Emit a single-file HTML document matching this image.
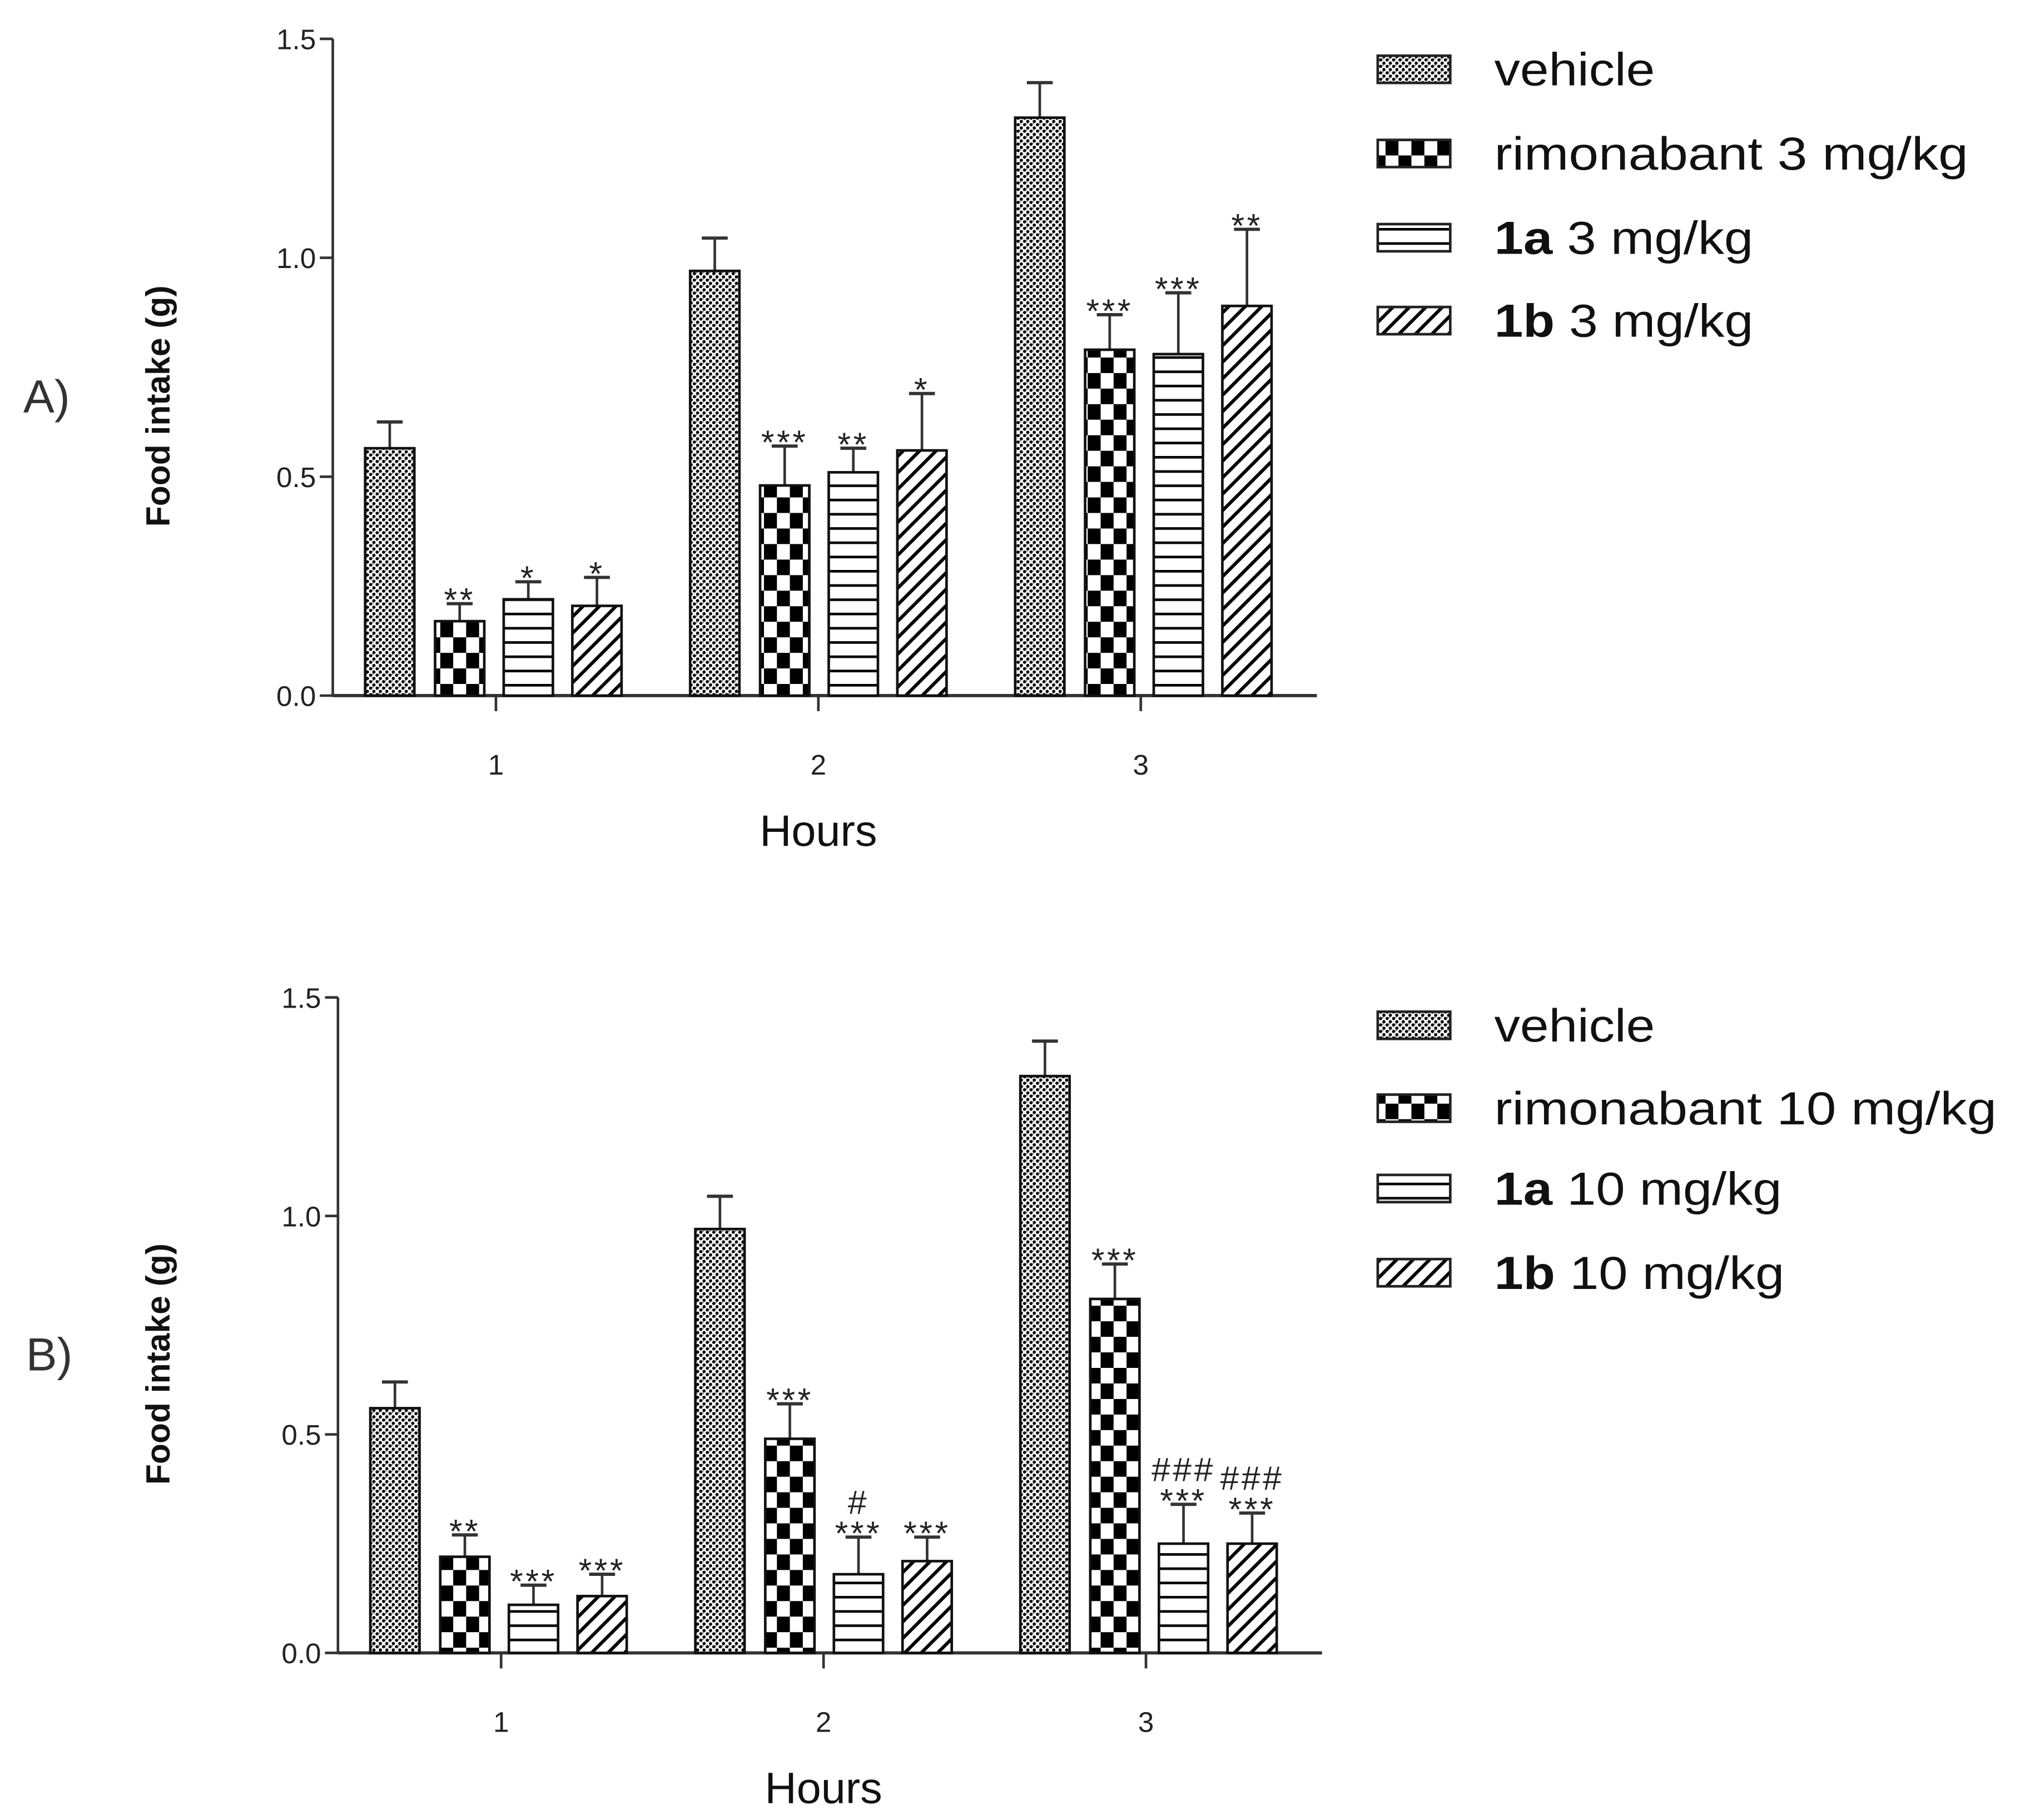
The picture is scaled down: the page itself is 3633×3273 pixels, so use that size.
<!DOCTYPE html>
<html><head><meta charset="utf-8"><style>
html,body{margin:0;padding:0;background:#fff;}
svg{display:block;}
text{font-family:"Liberation Sans",sans-serif;}
</style></head>
<body>
<svg id="fig" xmlns="http://www.w3.org/2000/svg" width="3633" height="3273" viewBox="0 0 1560 1405" preserveAspectRatio="none">
<defs>
<pattern id="pVeh" patternUnits="userSpaceOnUse" width="5" height="5">
<rect width="5" height="5" fill="#fff"/><circle cx="1.25" cy="1.25" r="1.25" fill="#000"/><circle cx="3.75" cy="3.75" r="1.25" fill="#000"/>
<rect x="2.5" y="0" width="1" height="1" fill="#777"/></pattern>
<pattern id="pChk" patternUnits="userSpaceOnUse" width="20" height="24">
<rect width="20" height="24" fill="#fff"/><rect x="0" y="0" width="10" height="12" fill="#000"/><rect x="10" y="12" width="10" height="12" fill="#000"/></pattern>
<pattern id="pHor" patternUnits="userSpaceOnUse" width="10" height="11">
<rect width="10" height="11" fill="#fff"/><rect x="0" y="0" width="10" height="2" fill="#000"/></pattern>
<pattern id="pDia" patternUnits="userSpaceOnUse" width="9" height="9" patternTransform="rotate(45)">
<rect width="9" height="9" fill="#fff"/><rect x="0" y="0" width="2.6" height="9" fill="#000"/></pattern>
</defs>
<g id="panelA"></g>
<g id="panelB"></g>
</svg>
<script>
const hours = ["1","2","3"];
const yTicks = [0.0, 0.5, 1.0, 1.5];
const yTickLabels = ["0.0","0.5","1.0","1.5"];
const seriesKeys = ["vehicle","rimonabant","1a","1b"];
// Panel A (3 mg/kg)
const aVehicle = [0.565, 0.97, 1.32];
const aRimonabant = [0.17, 0.48, 0.79];
const a1a = [0.22, 0.51, 0.78];
const a1b = [0.205, 0.56, 0.89];
const aVehicleErr = [0.06, 0.075, 0.08];
const aRimonabantErr = [0.04, 0.09, 0.08];
const a1aErr = [0.04, 0.055, 0.14];
const a1bErr = [0.065, 0.13, 0.175];
const aMarks = [["","",""],["**","***","***"],["*","**","***"],["*","*","**"]];
const aLegend = [["","vehicle"],["","rimonabant 3 mg/kg"],["1a"," 3 mg/kg"],["1b"," 3 mg/kg"]];
// Panel B (10 mg/kg)
const bVehicle = [0.56, 0.97, 1.32];
const bRimonabant = [0.22, 0.49, 0.81];
const b1a = [0.11, 0.18, 0.25];
const b1b = [0.13, 0.21, 0.25];
const bVehicleErr = [0.06, 0.075, 0.08];
const bRimonabantErr = [0.05, 0.08, 0.08];
const b1aErr = [0.045, 0.085, 0.09];
const b1bErr = [0.05, 0.055, 0.07];
const bMarks = [["","",""],["**","***","***"],["***","#|***","###|***"],["***","***","###|***"]];
const bLegend = [["","vehicle"],["","rimonabant 10 mg/kg"],["1a"," 10 mg/kg"],["1b"," 10 mg/kg"]];

const NS="http://www.w3.org/2000/svg";
const fills=["url(#pVeh)","url(#pChk)","url(#pHor)","url(#pDia)"];
function mk(parent,tag,attrs,txt){const e=document.createElementNS(NS,tag);for(const k in attrs)e.setAttribute(k,attrs[k]);if(txt!==undefined)e.textContent=txt;parent.appendChild(e);return e;}

function drawPanel(g,cfg){
  const y=v=>cfg.y0-v*(cfg.y0-cfg.y15)/1.5;
  const xBar=(gi,si)=>cfg.x0+gi*251+[0,54,107,160][si];
  const W=38;
  let e=mk(g,"line",{x1:cfg.ax,y1:cfg.y15,x2:cfg.ax,y2:cfg.y0,stroke:"#333","stroke-width":2});
  
  e=mk(g,"line",{x1:cfg.ax,y1:cfg.y0,x2:cfg.ax+760,y2:cfg.y0,stroke:"#333","stroke-width":2.5});
  
  yTicks.forEach((t,i)=>{
    mk(g,"line",{x1:cfg.ax-10,y1:y(t),x2:cfg.ax,y2:y(t),stroke:"#333","stroke-width":2});
    e=mk(g,"text",{x:cfg.ax-13,y:y(t)+8,"font-size":22,"text-anchor":"end",fill:"#222"},yTickLabels[i]);
    
  });
  hours.forEach((h,gi)=>{
    const cx=cfg.tick0+gi*249;
    mk(g,"line",{x1:cx,y1:cfg.y0,x2:cx,y2:cfg.y0+12,stroke:"#333","stroke-width":2});
    e=mk(g,"text",{x:cx,y:cfg.y0+61,"font-size":22,"text-anchor":"middle",fill:"#222"},h);
    
  });
  e=mk(g,"text",{x:cfg.tick0+249,y:cfg.y0+116,"font-size":34,"text-anchor":"middle",fill:"#111"},"Hours");
  
  const my=(cfg.y0+cfg.y15)/2;
  e=mk(g,"text",{x:0,y:0,"font-size":26,"font-weight":"bold","text-anchor":"middle",fill:"#111",transform:`translate(131,${my+30}) rotate(-90)`},"Food intake (g)");
  
  e=mk(g,"text",{x:cfg.lx,y:my+35,"font-size":36,fill:"#333","font-family":"Liberation Serif, serif"},cfg.label);
  
  cfg.vals.forEach((arr,si)=>{
    arr.forEach((v,gi)=>{
      const x=xBar(gi,si), top=y(v), et=y(v+cfg.errs[si][gi]), cx=x+W/2;
      const eb=mk(g,"line",{x1:cx,y1:top,x2:cx,y2:et,stroke:"#333","stroke-width":2});
      
      mk(g,"line",{x1:cx-10,y1:et,x2:cx+10,y2:et,stroke:"#333","stroke-width":2.5});
      const r=mk(g,"rect",{x:x,y:top,width:W,height:cfg.y0-top,fill:fills[si],stroke:"#111","stroke-width":2});
      
      
      const m=cfg.marks[si][gi];
      if(m){
        const parts=m.split("|").reverse();
        parts.forEach((p,k)=>{
          const t=mk(g,"text",{x:cx,y:et-8-k*24+14,"font-size":26,"letter-spacing":2,"text-anchor":"middle",fill:"#222","font-family":"Liberation Serif, serif"},p);
          
          
        });
      }
    });
  });
  cfg.legend.forEach((L,i)=>{
    const cy=cfg.legY[i];
    const sw=mk(g,"rect",{x:1064,y:cy-10,width:56,height:21,fill:fills[i],stroke:"#222","stroke-width":2});
    
    
    const t=mk(g,"text",{x:1154,y:cy+13,"font-size":36,fill:"#111"});
    
    
    if(L[0]){mk(t,"tspan",{"font-weight":"bold"},L[0]);}
    mk(t,"tspan",{},L[1]);
    t.setAttribute("textLength",cfg.legW[i]);
    t.setAttribute("lengthAdjust","spacingAndGlyphs");
  });
}
drawPanel(document.getElementById("panelA"),{ax:257,y0:537,y15:30,x0:282,tick0:383,label:"A)",lx:18,
  vals:[aVehicle,aRimonabant,a1a,a1b],errs:[aVehicleErr,aRimonabantErr,a1aErr,a1bErr],marks:aMarks,
  legend:aLegend,legY:[53,118,183,247],legW:[124,366,200,200]});
drawPanel(document.getElementById("panelB"),{ax:261,y0:1276,y15:770,x0:286,tick0:387,label:"B)",lx:20,
  vals:[bVehicle,bRimonabant,b1a,b1b],errs:[bVehicleErr,bRimonabantErr,b1aErr,b1bErr],marks:bMarks,
  legend:bLegend,legY:[791,855,917,982],legW:[124,388,222,224]});
</script>
</body></html>
